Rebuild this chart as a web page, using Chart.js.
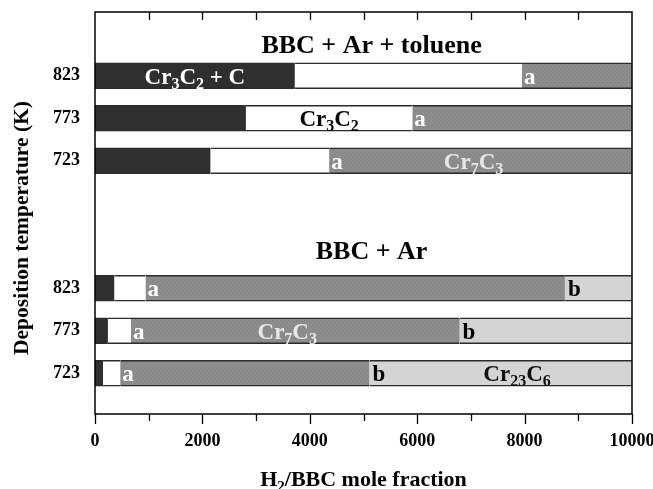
<!DOCTYPE html>
<html>
<head>
<meta charset="utf-8">
<script src="https://cdn.jsdelivr.net/npm/chart.js@4.4.1/dist/chart.umd.min.js"></script>
<style>
  html, body { margin: 0; padding: 0; background: #fff; overflow: hidden; }
  #wrap { width: 653px; height: 489px; }
</style>
</head>
<body>
<div id="wrap"><canvas id="myChart"></canvas></div>
<script>
// temperatures (K), same order in both groups
const temps = ['823', '773', '723']
// BBC + Ar + toluene : phase boundaries along H2/BBC
const tolDarkEnd = [3720, 2810, 2150]
const tolWhiteEnd = [7950, 5910, 4360]
// BBC + Ar : phase boundaries
const arDarkEnd = [360, 240, 150]
const arWhiteEnd = [940, 670, 470]
const arGrayEnd = [8750, 6790, 5110]
const xMax = 10000
const xTicks = [0, 2000, 4000, 6000, 8000, 10000]

// row positions on the y scale (gap of two rows between groups)
const tolRows = [0, 1, 2]
const arRows = [5, 6, 7]

const FONT = "'Liberation Serif', 'Times New Roman', serif"

function hatch() {
  const c = document.createElement('canvas')
  c.width = 4; c.height = 4
  const g = c.getContext('2d')
  g.fillStyle = '#8e8e8e'
  g.fillRect(0, 0, 4, 4)
  g.strokeStyle = '#848484'
  g.lineWidth = 1
  g.beginPath()
  g.moveTo(0, 0); g.lineTo(4, 4)
  g.moveTo(-2, 2); g.lineTo(2, 6)
  g.moveTo(2, -2); g.lineTo(6, 2)
  g.stroke()
  return g.createPattern(c, 'repeat')
}

function seg(rows, starts, ends) {
  return rows.map((r, i) => ({ y: r, x: [starts[i], ends[i]] }))
}

const zeros = temps.map(() => 0)
const maxes = temps.map(() => xMax)

const darkData = seg(tolRows, zeros, tolDarkEnd).concat(seg(arRows, zeros, arDarkEnd))
const whiteData = seg(tolRows, tolDarkEnd, tolWhiteEnd).concat(seg(arRows, arDarkEnd, arWhiteEnd))
const grayData = seg(tolRows, tolWhiteEnd, maxes).concat(seg(arRows, arWhiteEnd, arGrayEnd))
const lightData = seg(arRows, arGrayEnd, maxes)

const edge = { top: 1.5, bottom: 1.5, left: 0, right: 0 }
function ds(data, color) {
  return {
    data: data,
    backgroundColor: color,
    borderColor: '#2b2b2b',
    borderWidth: edge,
    borderSkipped: false,
    barThickness: 26,
    grouped: false
  }
}

// text drawn over bars: "_n" marks a subscript
function richText(ctx, str, x, y, size, color, align) {
  const parts = []
  str.split(/(_\d+)/).forEach(p => {
    if (!p) return
    if (p[0] === '_') parts.push({ t: p.slice(1), sub: true })
    else parts.push({ t: p, sub: false })
  })
  const subSize = Math.round(size * 0.68)
  let w = 0
  parts.forEach(p => {
    ctx.font = 'bold ' + (p.sub ? subSize : size) + 'px ' + FONT
    p.w = ctx.measureText(p.t).width
    w += p.w
  })
  let cx = align === 'center' ? x - w / 2 : x
  ctx.fillStyle = color
  ctx.textBaseline = 'alphabetic'
  ctx.textAlign = 'left'
  parts.forEach(p => {
    ctx.font = 'bold ' + (p.sub ? subSize : size) + 'px ' + FONT
    ctx.fillText(p.t, cx, p.sub ? y + size * 0.22 : y)
    cx += p.w
  })
}

const decor = {
  id: 'decor',
  afterDatasetsDraw(chart) {
    const ctx = chart.ctx
    const xs = chart.scales.x
    const ys = chart.scales.y
    const a = chart.chartArea
    const px = v => xs.getPixelForValue(v)
    const base = r => ys.getPixelForValue(r) + 8
    const mid = (s, e) => (s + e) / 2
    const fs = 23
    ctx.save()

    // phase labels
    richText(ctx, 'Cr_3C_2 + C', px(mid(0, tolDarkEnd[0])), base(tolRows[0]), fs, '#ffffff', 'center')
    richText(ctx, 'Cr_3C_2', px(mid(tolDarkEnd[1], tolWhiteEnd[1])), base(tolRows[1]), fs, '#000000', 'center')
    richText(ctx, 'Cr_7C_3', px(7050), base(tolRows[2]), fs, '#e8e8e8', 'center')
    richText(ctx, 'Cr_7C_3', px(3580), base(arRows[1]), fs, '#e8e8e8', 'center')
    richText(ctx, 'Cr_23C_6', px(7860), base(arRows[2]), fs, '#111111', 'center')
    tolRows.forEach((r, i) => richText(ctx, 'a', px(tolWhiteEnd[i]) + 2, base(r), fs, '#ffffff', 'left'))
    arRows.forEach((r, i) => richText(ctx, 'a', px(arWhiteEnd[i]) + 2, base(r), fs, '#ffffff', 'left'))
    arRows.forEach((r, i) => richText(ctx, 'b', px(arGrayEnd[i]) + 3, base(r), fs, '#000000', 'left'))

    // group titles
    richText(ctx, 'BBC + Ar + toluene', px(5150), ys.getPixelForValue(-0.75) + 9, 26, '#000000', 'center')
    richText(ctx, 'BBC + Ar', px(5150), ys.getPixelForValue(4.1) + 9, 26, '#000000', 'center')

    // frame
    ctx.strokeStyle = '#000000'
    ctx.lineWidth = 1.5
    ctx.strokeRect(a.left, a.top, a.right - a.left, a.bottom - a.top)

    // ticks: bottom outward (major longer), top inward
    ctx.lineWidth = 1.3
    ctx.beginPath()
    for (let v = 0; v <= xMax; v += 1000) {
      const x = Math.round(px(v)) + 0.5
      const major = xTicks.indexOf(v) >= 0
      ctx.moveTo(x, a.bottom)
      ctx.lineTo(x, a.bottom + (major ? 10 : 7))
      if (v > 0 && v < xMax) {
        ctx.moveTo(x, a.top)
        ctx.lineTo(x, a.top + 8)
      }
    }
    ctx.stroke()

    // axis titles
    richText(ctx, 'H_2/BBC mole fraction', mid(a.left, a.right), 486, 22, '#000000', 'center')
    ctx.translate(28, 228)
    ctx.rotate(-Math.PI / 2)
    richText(ctx, 'Deposition temperature (K)', 0, 0, 21.5, '#000000', 'center')
    ctx.restore()
  }
}

const myChart = document.getElementById('myChart')
const chart = new Chart(myChart, {
  type: 'bar',
  data: {
    datasets: [
      ds(darkData, '#2f2f2f'),
      ds(whiteData, '#ffffff'),
      ds(grayData, hatch()),
      ds(lightData, '#d4d4d4')
    ]
  },
  options: {
    indexAxis: 'y',
    responsive: true,
    maintainAspectRatio: false,
    animation: false,
    devicePixelRatio: 1,
    layout: { padding: { top: 12, right: 21, left: 0, bottom: 0 } },
    plugins: { legend: { display: false }, tooltip: { enabled: false } },
    scales: {
      x: {
        type: 'linear',
        min: 0,
        max: xMax,
        afterBuildTicks: s => { s.ticks = xTicks.map(v => ({ value: v })) },
        afterFit: s => { s.height = 75; s.paddingLeft = 0; s.paddingRight = 0 },
        grid: { display: false, drawTicks: false },
        border: { display: false },
        ticks: {
          padding: 17,
          color: '#000',
          font: { family: FONT, size: 18, weight: 'bold' },
          maxRotation: 0,
          callback: v => String(v)
        }
      },
      y: {
        type: 'linear',
        reverse: true,
        offset: false,
        min: -1.5,
        max: 7.96,
        afterBuildTicks: s => { s.ticks = tolRows.concat(arRows).map(v => ({ value: v })) },
        afterFit: s => { s.width = 95; s.paddingTop = 0; s.paddingBottom = 0 },
        grid: { display: false, drawTicks: false, offset: false },
        border: { display: false },
        ticks: {
          padding: 15,
          color: '#000',
          font: { family: FONT, size: 18, weight: 'bold' },
          callback: (v) => {
            let i = tolRows.indexOf(v)
            if (i < 0) i = arRows.indexOf(v)
            return i < 0 ? '' : temps[i]
          }
        }
      }
    }
  },
  plugins: [decor]
})
</script>
</body>
</html>
